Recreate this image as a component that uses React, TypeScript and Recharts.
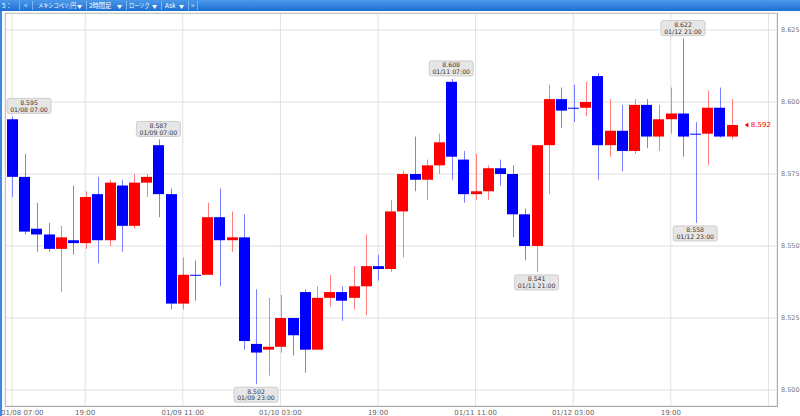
import {
  Bar,
  CartesianGrid,
  ComposedChart,
  ReferenceDot,
  XAxis,
  YAxis,
} from "recharts";

// 2h candles from 01/08 07:00 to 01/13 05:00
const opens = [
  8.594, 8.574, 8.556, 8.554, 8.549, 8.552, 8.551, 8.568, 8.552, 8.571,
  8.557, 8.572, 8.585, 8.568, 8.53, 8.54, 8.54, 8.56, 8.552, 8.553,
  8.516, 8.514, 8.515, 8.525, 8.534, 8.514, 8.532, 8.534, 8.532, 8.536,
  8.543, 8.542, 8.562, 8.575, 8.573, 8.578, 8.607, 8.58, 8.568, 8.569,
  8.577, 8.575, 8.561, 8.55, 8.585, 8.601, 8.598, 8.598, 8.609, 8.585,
  8.59, 8.583, 8.599, 8.588, 8.594, 8.596, 8.589, 8.589, 8.598, 8.588,
];
const highs = [
  8.595, 8.582, 8.565, 8.558, 8.557, 8.571, 8.569, 8.574, 8.573, 8.573,
  8.575, 8.575, 8.587, 8.57, 8.546, 8.545, 8.565, 8.57, 8.562, 8.561,
  8.535, 8.532, 8.533, 8.525, 8.535, 8.536, 8.54, 8.536, 8.543, 8.554,
  8.547, 8.566, 8.576, 8.588, 8.58, 8.589, 8.608, 8.583, 8.582, 8.578,
  8.58, 8.578, 8.563, 8.585, 8.606, 8.605, 8.606, 8.607, 8.61, 8.601,
  8.599, 8.601, 8.601, 8.599, 8.605, 8.622, 8.593, 8.604, 8.605, 8.601,
];
const lows = [
  8.567, 8.554, 8.548, 8.548, 8.534, 8.547, 8.549, 8.544, 8.55, 8.548,
  8.556, 8.567, 8.56, 8.528, 8.528, 8.531, 8.54, 8.536, 8.548, 8.514,
  8.502, 8.505, 8.513, 8.512, 8.506, 8.514, 8.529, 8.524, 8.528, 8.526,
  8.538, 8.541, 8.546, 8.569, 8.566, 8.575, 8.573, 8.565, 8.566, 8.566,
  8.571, 8.553, 8.545, 8.541, 8.568, 8.591, 8.593, 8.595, 8.573, 8.581,
  8.576, 8.582, 8.584, 8.583, 8.589, 8.581, 8.558, 8.578, 8.5876, 8.587,
];
const closes = [
  8.574, 8.555, 8.554, 8.549, 8.553, 8.551, 8.567, 8.552, 8.572, 8.557,
  8.572, 8.574, 8.568, 8.53, 8.54, 8.5397, 8.56, 8.552, 8.553, 8.517,
  8.513, 8.515, 8.525, 8.519, 8.514, 8.532, 8.534, 8.531, 8.536, 8.543,
  8.542, 8.562, 8.575, 8.573, 8.578, 8.586, 8.581, 8.568, 8.569, 8.577,
  8.575, 8.561, 8.55, 8.585, 8.601, 8.597, 8.5977, 8.6, 8.585, 8.59,
  8.583, 8.599, 8.588, 8.594, 8.596, 8.588, 8.5888, 8.598, 8.588, 8.592,
];

const xTicks = [0, 6, 14, 22, 30, 38, 46, 54, 62];
const xTickLabels = [
  "01/08 07:00",
  "19:00",
  "01/09 11:00",
  "01/10 03:00",
  "19:00",
  "01/11 11:00",
  "01/12 03:00",
  "19:00",
  "",
];
const yTicks = [8.5, 8.525, 8.55, 8.575, 8.6, 8.625];

// high / low callouts
const markIndex = [0, 12, 20, 36, 43, 55, 56];
const markSide = ["high", "high", "low", "high", "low", "high", "low"];
const markTime = [
  "01/08 07:00",
  "01/09 07:00",
  "01/09 23:00",
  "01/11 07:00",
  "01/11 21:00",
  "01/12 21:00",
  "01/12 23:00",
];

// toolbar
const menuItems = ["5：", "<", "メキシコペソ/円", "2時間足", "ローソク", "Ask", ">"];
const menuHasArrow = [false, false, true, true, true, true, false];
const menuLeft = [2, 24, 38, 89, 129, 165, 191];
const menuScale = [1, 1, 0.82, 1, 0.82, 1, 1];
const menuArrowLeft = [0, 0, 77, 117, 152, 179, 0];
const menuSeparators = [19, 32, 86, 126, 161, 188, 197];

const BLUE = "#0000ff";
const RED = "#ff0000";
const BLUE_WICK = "#7d7dff";
const RED_WICK = "#ff7d7d";
const FONT = '"DejaVu Sans", Verdana, sans-serif';

const candles = opens.map((open, i) => ({
  i,
  open,
  high: highs[i],
  low: lows[i],
  close: closes[i],
}));

function Candle(props: any) {
  const { x, y, width, height, payload } = props;
  if (x == null || y == null || !payload) return null;
  const { open, high, low, close } = payload;
  const top = Math.min(y, y + height);
  const span = Math.abs(height);
  const toY = (v: number) => top + ((high - v) / (high - low)) * span;
  const up = close > open;
  const cx = Math.round(x + width / 2) + 0.5;
  const bodyTop = toY(Math.max(open, close));
  const bodyBottom = toY(Math.min(open, close));
  return (
    <g>
      <line
        x1={cx}
        x2={cx}
        y1={top}
        y2={top + span}
        stroke={up ? RED_WICK : BLUE_WICK}
        strokeWidth={1}
      />
      <rect
        x={Math.round(x)}
        y={bodyTop}
        width={width}
        height={Math.max(bodyBottom - bodyTop, 1)}
        fill={up ? RED : BLUE}
      />
    </g>
  );
}

function Callout({ cx, cy, value, time, side }: any) {
  if (cx == null || cy == null) return null;
  const w = 44;
  const h = 15;
  const left = Math.max(cx - w / 2, 7);
  const top = side === "high" ? cy - 3 - h : cy + 3;
  return (
    <g>
      <rect x={left} y={top} width={w} height={h} rx={2} fill="#e6e6e6" stroke="#cdcdcd" />
      <text x={left + w / 2} y={top + 6.4} textAnchor="middle" fontSize={6.2} fontFamily={FONT} fill="#333">
        {value.toFixed(3)}
      </text>
      <text x={left + w / 2} y={top + 13.2} textAnchor="middle" fontSize={6.2} fontFamily={FONT} fill="#333">
        {time}
      </text>
    </g>
  );
}

function LastPrice({ cx, cy, value }: any) {
  if (cx == null || cy == null) return null;
  const px = cx + 13;
  return (
    <g>
      <polygon points={`${px},${cy} ${px + 3.5},${cy - 2.5} ${px + 3.5},${cy + 2.5}`} fill={RED} />
      <text x={px + 6} y={cy + 2.4} fontSize={7} fontFamily={FONT} fill={RED}>
        {value.toFixed(3)}
      </text>
    </g>
  );
}

function XTick({ x, y, payload, index }: any) {
  const label = xTickLabels[xTicks.indexOf(payload.value)] ?? "";
  const first = index === 0;
  return (
    <text
      x={first ? 1 : x}
      y={y + 6}
      textAnchor={first ? "start" : "middle"}
      fontSize={7}
      fontFamily={FONT}
      fill="#666"
    >
      {label}
    </text>
  );
}

export default function App() {
  return (
    <div
      style={{
        position: "absolute",
        left: 0,
        top: 0,
        width: 800,
        height: 416,
        background: "#fff",
        overflow: "hidden",
      }}
    >
      <ComposedChart
        width={800}
        height={416}
        data={candles}
        margin={{ top: 13, right: 0, left: 5, bottom: 0 }}
      >
        <CartesianGrid stroke="#e0e0e0" />
        <XAxis
          type="number"
          dataKey="i"
          domain={[-0.574, 62.705]}
          allowDataOverflow
          ticks={xTicks}
          interval={0}
          height={10}
          axisLine={false}
          tickLine={false}
          tickSize={0}
          tickMargin={3}
          tick={<XTick />}
        />
        <YAxis
          orientation="right"
          type="number"
          domain={[8.49444, 8.6309]}
          allowDataOverflow
          ticks={yTicks}
          width={23}
          axisLine={false}
          tickLine={false}
          tickSize={0}
          tickMargin={4}
          tickFormatter={(v) => Number(v).toFixed(3)}
          tick={{ fill: "#777", fontSize: 6.5, fontFamily: FONT }}
        />
        <Bar
          dataKey={(d: any) => [d.low, d.high]}
          barSize={11}
          shape={(p: any) => <Candle {...p} />}
          isAnimationActive={false}
        />
        {markIndex.map((idx, k) => (
          <ReferenceDot
            key={`m${k}`}
            x={idx}
            y={markSide[k] === "high" ? highs[idx] : lows[idx]}
            r={0}
            ifOverflow="visible"
            shape={(p: any) => (
              <Callout
                cx={p.cx}
                cy={p.cy}
                value={markSide[k] === "high" ? highs[idx] : lows[idx]}
                time={markTime[k]}
                side={markSide[k]}
              />
            )}
          />
        ))}
        <ReferenceDot
          x={closes.length - 1}
          y={closes[closes.length - 1]}
          r={0}
          ifOverflow="visible"
          shape={(p: any) => (
            <LastPrice cx={p.cx} cy={p.cy} value={closes[closes.length - 1]} />
          )}
        />
      </ComposedChart>

      {/* plot frame */}
      <div
        style={{
          position: "absolute",
          left: 5,
          top: 13,
          width: 773,
          height: 394,
          boxSizing: "border-box",
          border: "1px solid #c4c4c4",
          borderBottomColor: "#a8a8a8",
          borderRightColor: "#a8a8a8",
          pointerEvents: "none",
        }}
      />
      {/* left edge line */}
      <div
        style={{
          position: "absolute",
          left: 0,
          top: 11,
          width: 2,
          height: 405,
          background: "#3f8ae0",
        }}
      />
      {/* toolbar */}
      <div
        style={{
          position: "absolute",
          left: 0,
          top: 0,
          width: 800,
          height: 11,
          background: "linear-gradient(#4b98ea, #1d6fd2)",
          color: "#fff",
          fontFamily: '"Noto Sans CJK JP", sans-serif',
          fontSize: 6.3,
          lineHeight: "11px",
        }}
      >
        {menuItems.map((item, k) => (
          <span
            key={item}
            style={{
              position: "absolute",
              left: menuLeft[k],
              top: 0,
              whiteSpace: "nowrap",
              transform: `scaleX(${menuScale[k]})`,
              transformOrigin: "left center",
            }}
          >
            {item}
          </span>
        ))}
        {menuItems.map((item, k) =>
          menuHasArrow[k] ? (
            <span
              key={`a${item}`}
              style={{ position: "absolute", left: menuArrowLeft[k], top: 0, fontSize: 5 }}
            >
              ▼
            </span>
          ) : null,
        )}
        {menuSeparators.map((sx) => (
          <span
            key={sx}
            style={{ position: "absolute", left: sx, top: 1, width: 1, height: 9, background: "#7fb2ee" }}
          />
        ))}
      </div>
    </div>
  );
}
